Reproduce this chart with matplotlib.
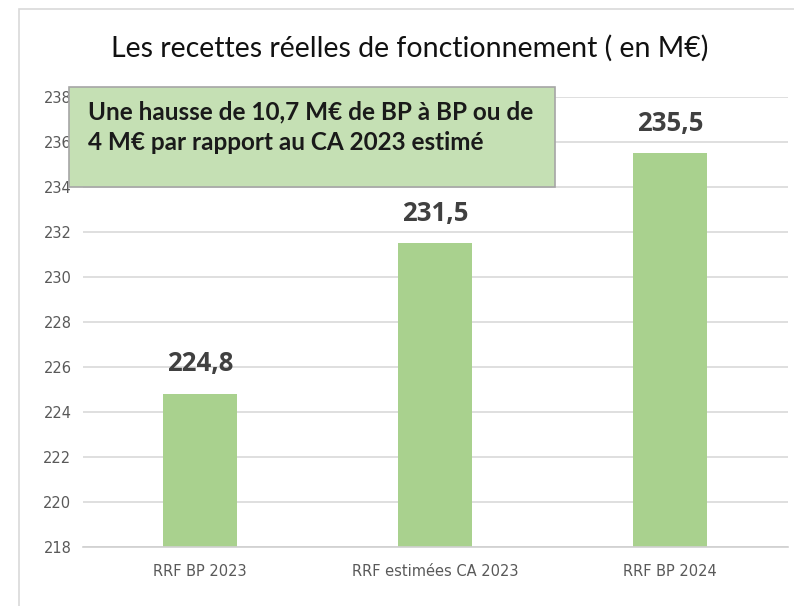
import matplotlib
matplotlib.use("Agg")
import matplotlib.pyplot as plt
from matplotlib.patches import Rectangle

# donnees
categories = ["RRF BP 2023", "RRF estimées CA 2023", "RRF BP 2024"]
values = [224.8, 231.5, 235.5]
labels = ["224,8", "231,5", "235,5"]
yticks = list(range(218, 239, 2))

title = "Les recettes réelles de fonctionnement ( en M€)"
note = "Une hausse de 10,7 M€ de BP à BP ou de\n4 M€ par rapport au CA 2023 estimé"

fig = plt.figure(figsize=(7.94, 6.06), dpi=100)
ax = fig.add_axes([0.104, 0.0974, 0.888, 0.7426])

# cadre du graphique
fig.add_artist(Rectangle((19 / 794, -0.1), 1.0, 1.1 - 9 / 606, transform=fig.transFigure,
                         fill=False, edgecolor="#d9d9d9", lw=1.2))

ax.bar(range(len(values)), values, width=0.315, color="#a9d18e", zorder=2)
ax.set_ylim(218, 238)
ax.set_xlim(-0.5, 2.5)
ax.set_yticks(yticks)
ax.set_yticklabels([str(t) for t in yticks], fontsize=10.5, color="#595959",
                   family=["Liberation Sans Narrow", "DejaVu Sans"])
ax.set_xticks(range(len(categories)))
ax.set_xticklabels(categories, fontsize=10.5, color="#595959",
                   family=["Liberation Sans Narrow", "DejaVu Sans"])
ax.tick_params(length=0, pad=8)
ax.tick_params(axis="x", pad=12)
ax.grid(axis="y", color="#d9d9d9", lw=1.2, zorder=0)
for s in ["top", "right", "left"]:
    ax.spines[s].set_visible(False)
ax.spines["bottom"].set_color("#d0d0d0")
ax.spines["bottom"].set_linewidth(1.2)

for i, (v, lab) in enumerate(zip(values, labels)):
    ax.annotate(lab, (i, v), xytext=(0, 12), textcoords="offset points",
                ha="center", va="bottom", fontsize=18.5, fontweight="bold",
                color="#404040", family="Open Sans")

fig.text(410 / 794, 1 - 48 / 606, title, ha="center", va="center",
         fontsize=20.5, color="#111111", family="Lato")

# encadre vert
fig.add_artist(Rectangle((69 / 794, 1 - 187 / 606), 486 / 794, 100 / 606,
                         transform=fig.transFigure, facecolor="#c5e0b4",
                         edgecolor="#a6a6a6", lw=1.2, zorder=5))
fig.text(88 / 794, 1 - 100 / 606, note, ha="left", va="top", fontsize=17.5,
         fontweight="bold", color="#1a1a1a", family="Lato", linespacing=1.42,
         zorder=6)

fig.savefig("out.png", dpi=100)
